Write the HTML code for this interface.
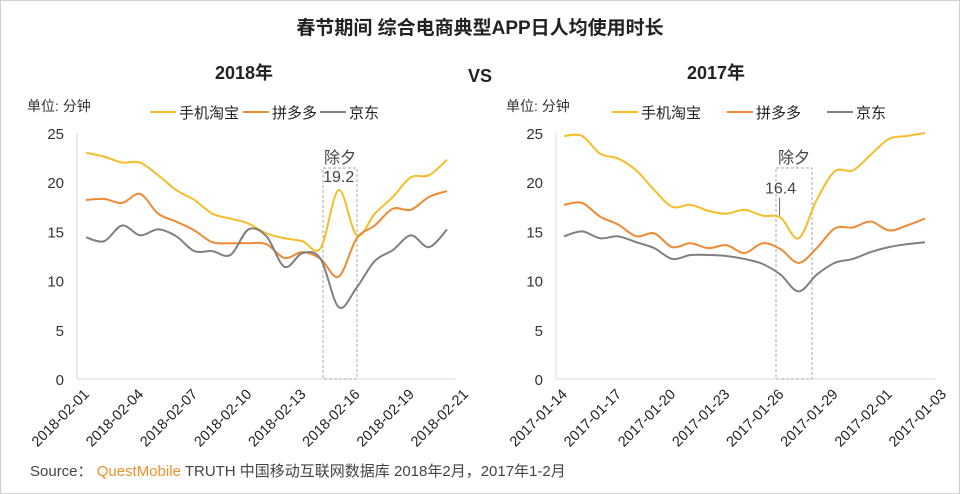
<!DOCTYPE html>
<html><head><meta charset="utf-8">
<style>
body{margin:0;background:#fff;}
svg{display:block;font-family:"Liberation Sans","Noto Sans CJK SC",sans-serif;}
</style></head>
<body>
<svg id="s" width="960" height="494" viewBox="0 0 960 494">
<rect x="0.5" y="0.5" width="959" height="493" fill="#fff" stroke="#d0d0d0"/>
<text x="480" y="34" text-anchor="middle" font-size="19" font-weight="bold" fill="#222">春节期间  综合电商典型APP日人均使用时长</text>
<text x="244" y="79" text-anchor="middle" font-size="18" font-weight="bold" fill="#222">2018年</text>
<text x="480" y="82" text-anchor="middle" font-size="18" font-weight="bold" fill="#222">VS</text>
<text x="716" y="79" text-anchor="middle" font-size="18" font-weight="bold" fill="#222">2017年</text>
<text x="30" y="476" font-size="15" fill="#444">Source： <tspan fill="#F0922B">QuestMobile</tspan> TRUTH 中国移动互联网数据库 2018年2月，2017年1-2月</text>
</svg>
<script>
const yTicks=[0,5,10,15,20,25];
const leftTaobao=[23.0,22.6,22.0,22.0,20.7,19.2,18.2,16.8,16.3,15.8,14.8,14.3,14.0,13.3,19.2,14.6,16.8,18.5,20.5,20.7,22.3];
const leftPdd=[18.2,18.3,17.9,18.8,16.8,16.0,15.1,13.9,13.8,13.8,13.7,12.3,12.9,12.2,10.4,14.3,15.6,17.3,17.2,18.5,19.1];
const leftJd=[14.4,14.0,15.6,14.6,15.2,14.5,13.0,13.0,12.6,15.2,14.5,11.4,12.8,12.2,7.3,9.3,12.0,13.1,14.6,13.4,15.2];
const leftLabels=["2018-02-01","2018-02-04","2018-02-07","2018-02-10","2018-02-13","2018-02-16","2018-02-19","2018-02-21"];
const rightTaobao=[24.7,24.7,22.9,22.4,21.2,19.2,17.5,17.7,17.1,16.8,17.2,16.6,16.4,14.3,18.2,21.1,21.2,22.8,24.4,24.7,25.0];
const rightPdd=[17.7,17.9,16.5,15.7,14.5,14.8,13.4,13.8,13.3,13.6,12.8,13.8,13.2,11.8,13.3,15.3,15.4,16.0,15.1,15.6,16.3];
const rightJd=[14.5,15.0,14.3,14.5,13.9,13.3,12.2,12.6,12.6,12.5,12.2,11.7,10.6,8.9,10.6,11.8,12.2,12.9,13.4,13.7,13.9];
const rightLabels=["2017-01-14","2017-01-17","2017-01-20","2017-01-23","2017-01-26","2017-01-29","2017-02-01","2017-01-03"];
const seriesNames=["手机淘宝","拼多多","京东"];
const leftAnnot={idx:14,label:"19.2"};
const rightAnnot={idx:12,label:"16.4"};

const NS="http://www.w3.org/2000/svg";
const svg=document.getElementById('s');
const colors=["#F5BD2A","#EE8A35","#808080"];
function el(tag,attrs,parent){const e=document.createElementNS(NS,tag);for(const k in attrs)e.setAttribute(k,attrs[k]);(parent||svg).appendChild(e);return e;}
function smooth(pts){let d="M"+pts[0][0]+","+pts[0][1];for(let i=0;i<pts.length-1;i++){const p0=pts[i-1]||pts[i],p1=pts[i],p2=pts[i+1],p3=pts[i+2]||p2;const t=6;d+=" C"+(p1[0]+(p2[0]-p0[0])/t)+","+(p1[1]+(p2[1]-p0[1])/t)+" "+(p2[0]-(p3[0]-p1[0])/t)+","+(p2[1]-(p3[1]-p1[1])/t)+" "+p2[0]+","+p2[1];}return d;}
function drawChart(prefix,ax,x0,step,x1,series,labels,annot,legendXs,box){
  const yTop=133,yBot=379;
  const y=v=>yBot-(v/25)*(yBot-yTop);
  const x=i=>x0+i*step;
  const g=el('g',{});
  
  
  const u=el('text',{x:ax-50,y:111,'font-size':14,fill:'#333'},g);u.textContent="单位: 分钟";
  
  
  const ya=el('line',{x1:ax,y1:yTop,x2:ax,y2:yBot,stroke:'#d9d9d9'},g);
  
  
  const xa=el('line',{x1:ax,y1:yBot,x2:x1,y2:yBot,stroke:'#d9d9d9'},g);
  
  
  yTicks.forEach(v=>{const t=el('text',{x:ax-13,y:y(v)+6,'text-anchor':'end','font-size':15,fill:'#333'},g);t.textContent=v;
    
    });
  labels.forEach((l,k)=>{const tx=x(k*3)+4,ty=yBot+16;const t=el('text',{x:tx,y:ty,'text-anchor':'end','font-size':14.5,fill:'#222',transform:'rotate(-45 '+tx+' '+ty+')'},g);t.textContent=l;
    
    });
  const b=el('rect',{x:box[0],y:168,width:box[1]-box[0],height:yBot-168,fill:'none',stroke:'#aaa','stroke-dasharray':'3,2'},g);
  
  
  const bt=el('text',{x:(box[0]+box[1])/2,y:163,'text-anchor':'middle','font-size':16,fill:'#444'},g);bt.textContent="除夕";
  
  
  series.forEach((s,si)=>{const p=el('path',{d:smooth(s.map((v,i)=>[x(i),y(v)])),fill:'none',stroke:colors[si],'stroke-width':2},g);
    
    
    const lx=legendXs[si];
    const ll=el('line',{x1:lx,y1:112,x2:lx+26,y2:112,stroke:colors[si],'stroke-width':2},g);
    
    
    const lt=el('text',{x:lx+29,y:118,'font-size':15,fill:'#222'},g);lt.textContent=seriesNames[si];
    
    });
  return {x,y};
}
const L=drawChart('left',77,86,18.05,455,[leftTaobao,leftPdd,leftJd],leftLabels,leftAnnot,[150,243,320],[323,357]);
const at=el('text',{x:L.x(leftAnnot.idx),y:L.y(leftTaobao[leftAnnot.idx])-8,'text-anchor':'middle','font-size':16,fill:'#444'});
at.textContent=leftAnnot.label;


const R=drawChart('right',556,564,18.05,935,[rightTaobao,rightPdd,rightJd],rightLabels,rightAnnot,[612,727,827],[776,812]);
const rx=R.x(rightAnnot.idx),ry=R.y(rightTaobao[rightAnnot.idx]);
const rl=el('line',{x1:rx-1,y1:ry-20,x2:rx-1,y2:ry-2,stroke:'#666'});


const rt=el('text',{x:rx,y:ry-24,'text-anchor':'middle','font-size':16,fill:'#444'});
rt.textContent=rightAnnot.label;


</script>
</body></html>
